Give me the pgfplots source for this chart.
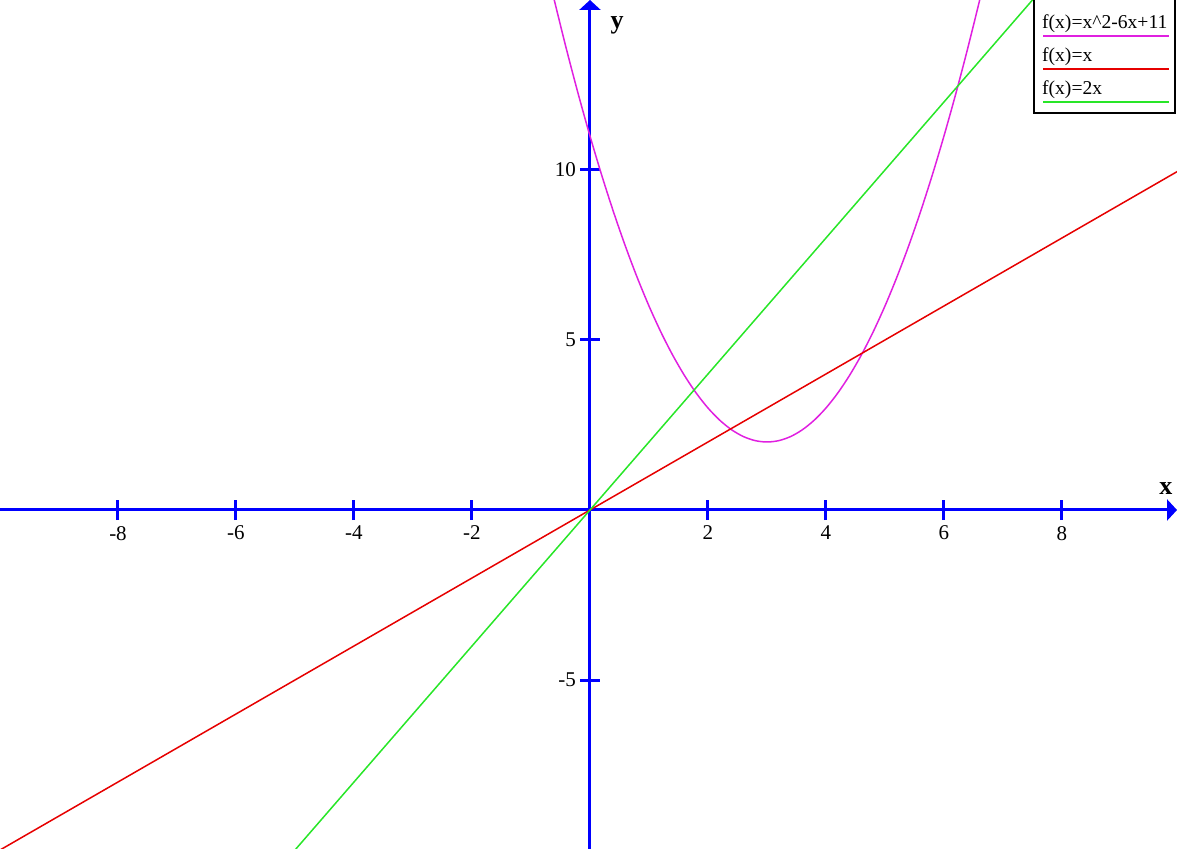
\documentclass[border=0pt]{standalone}
\usepackage{fontspec}
\setmainfont{Liberation Serif}
\usepackage{pgfplots}
\pgfplotsset{compat=1.18}
\usetikzlibrary{arrows.meta}

\definecolor{curvemag}{RGB}{224,32,224}
\definecolor{curvered}{RGB}{230,0,0}
\definecolor{curvegreen}{RGB}{40,230,40}

\begin{document}
\begin{tikzpicture}
\begin{axis}[
  scale only axis,
  width=588.5pt, height=424.5pt,
  xmin=-10, xmax=9.95, ymin=-9.97, ymax=15,
  axis lines=middle,
  axis line style={blue, line width=1.5pt, -{Triangle[length=5pt,width=10.5pt]}},
  xtick={-8,-6,-4,-2,2,4,6,8},
  ytick={-5,5,10},
  major tick style={blue, line width=1.5pt},
  major tick length=10pt,
  tick align=center,
  /pgf/number format/assume math mode=true,
  tick label style={font=\fontsize{10.5}{12}\selectfont},
  xticklabel style={anchor=north, yshift=0.5pt},
  yticklabel style={anchor=east, xshift=1.5pt},
  xlabel={\textbf{x}}, ylabel={\textbf{y}},
  every axis x label/.style={at={(axis cs:9.76,0.45)}, anchor=base, font=\fontsize{13}{15}\selectfont},
  every axis y label/.style={at={(axis cs:0.46,14.15)}, anchor=base, font=\fontsize{13}{15}\selectfont},
  legend cell align=left,
  legend style={at={(1,1)}, anchor=north east, xshift=-0.3pt, yshift=1pt,
    draw=black, line width=1pt, fill=white,
    font=\fontsize{9.8}{11}\selectfont,
    inner xsep=2pt, inner ysep=6pt, row sep=4pt,
    /tikz/every even column/.style={column sep=0pt}},
  legend image code/.code={\draw[#1,overlay,line width=1pt] (2.5pt,-6.5pt) -- (65.5pt,-6.5pt);},
]
\addplot[curvemag, line width=0.75pt, smooth] coordinates {
  (-0.7,15.69) (-0.6,14.96) (-0.4,13.56) (-0.2,12.24) (0,11) (0.2,9.84)
  (0.4,8.76) (0.6,7.76) (0.8,6.84) (1.0,6) (1.2,5.24) (1.4,4.56)
  (1.6,3.96) (1.8,3.44) (2.0,3) (2.2,2.64) (2.4,2.36) (2.6,2.16)
  (2.8,2.04) (3.0,2) (3.2,2.04) (3.4,2.16) (3.6,2.36) (3.8,2.64)
  (4.0,3) (4.2,3.44) (4.4,3.96) (4.6,4.56) (4.8,5.24) (5.0,6)
  (5.2,6.84) (5.4,7.76) (5.6,8.76) (5.8,9.84) (6.0,11) (6.2,12.24)
  (6.4,13.56) (6.6,14.96) (6.7,15.69)
};
\addlegendentry{f(x)=x\textasciicircum 2-6x+11}
\addplot[curvered, line width=0.75pt] coordinates {(-10,-10) (10,10)};
\addlegendentry{f(x)=x}
\addplot[curvegreen, line width=0.75pt] coordinates {(-5.2,-10.4) (7.7,15.4)};
\addlegendentry{f(x)=2x}
\coordinate (bl) at (rel axis cs:0,0);
\coordinate (tr) at (rel axis cs:1,1);
\end{axis}
\pgfresetboundingbox
\path[use as bounding box] (bl) rectangle (tr);
\end{tikzpicture}
\end{document}
